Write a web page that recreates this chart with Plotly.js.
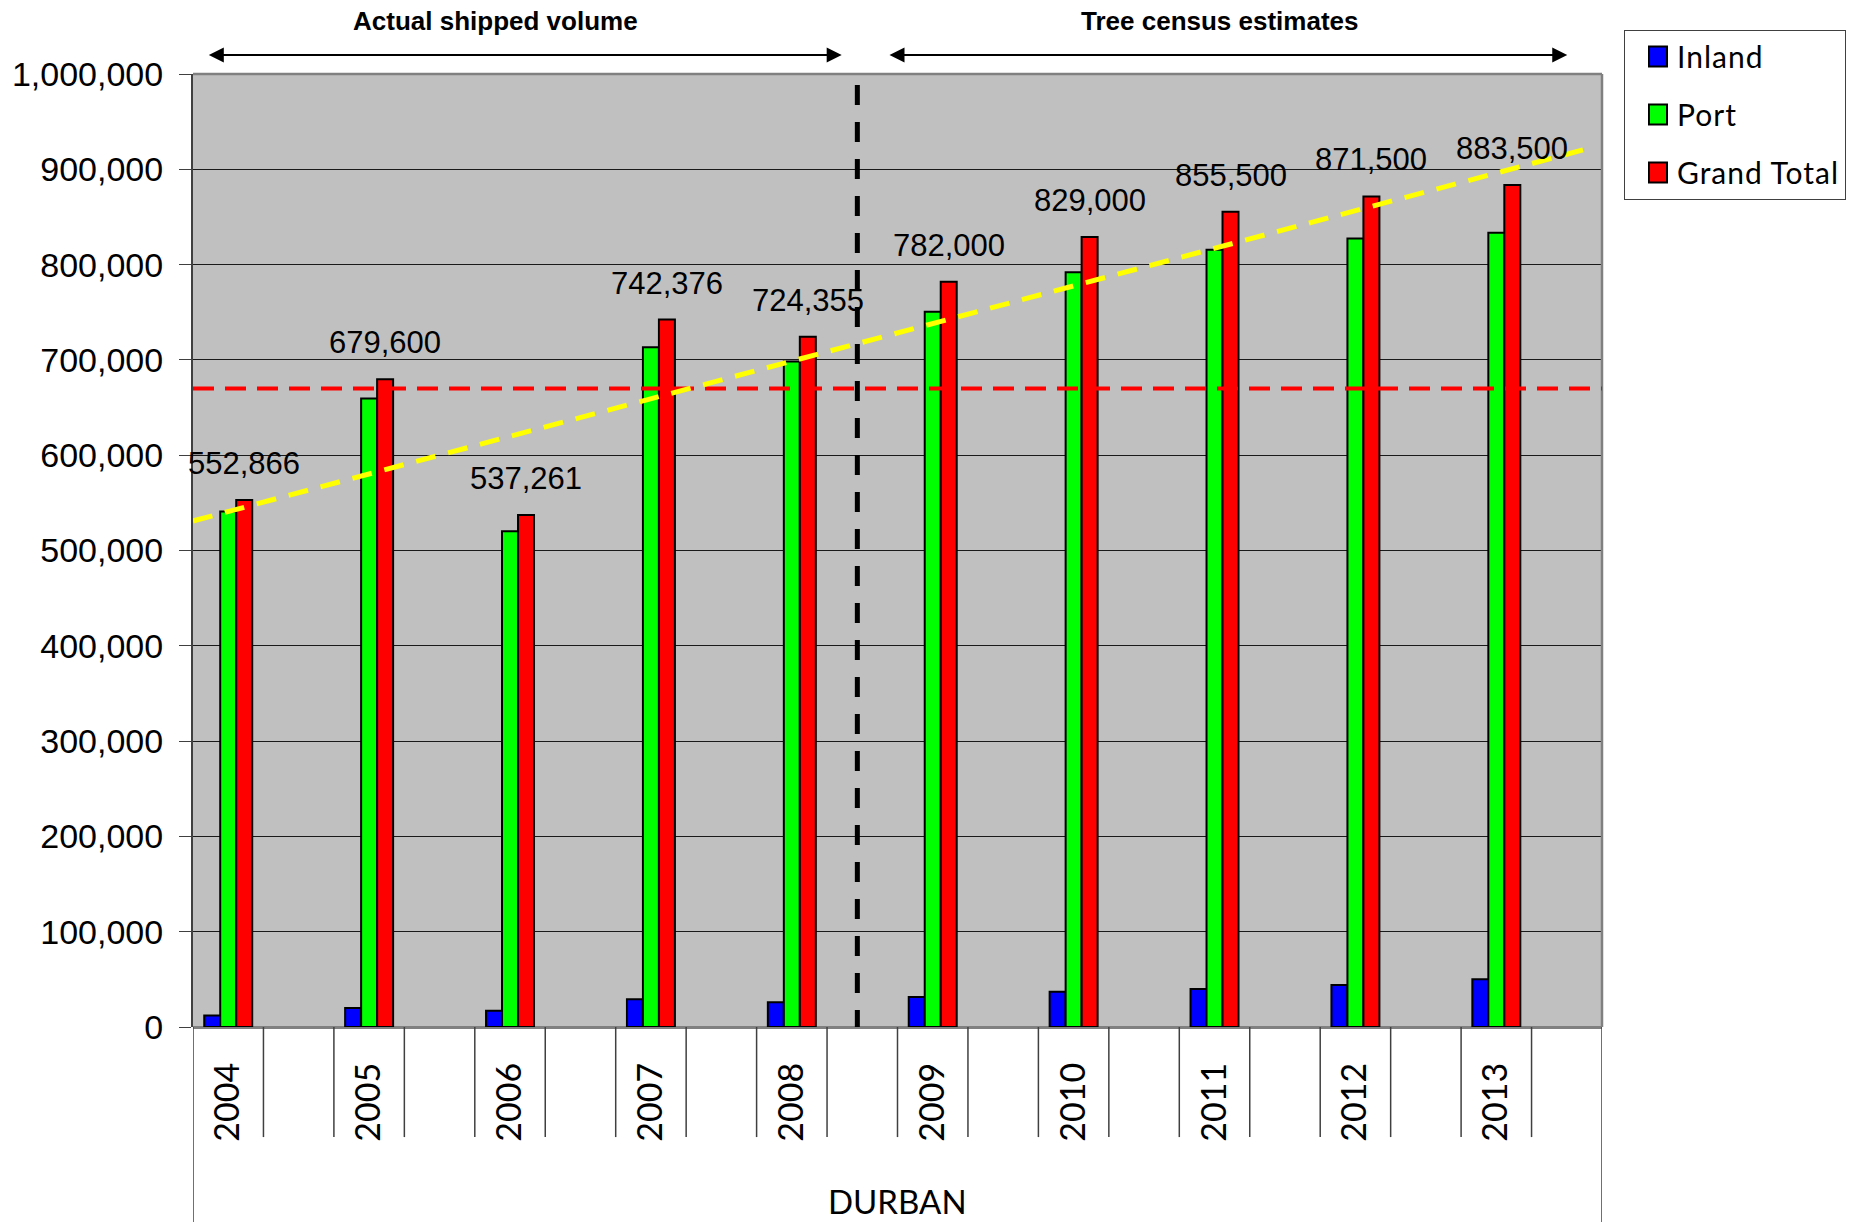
<!DOCTYPE html>
<html>
<head>
<meta charset="utf-8">
<script src="https://cdn.plot.ly/plotly-3.0.1.min.js"></script>
<style>
  html, body { margin: 0; padding: 0; background: #ffffff; }
  #chart { width: 1858px; height: 1222px; }
  .legendtext { letter-spacing: 1px; }
</style>
</head>
<body>
<div id="chart"></div>
<script>
// ---------------- data ----------------
const years = ['2004', '2005', '2006', '2007', '2008', '2009', '2010', '2011', '2012', '2013'];
const inland = [12000, 20000, 17000, 29000, 26000, 31500, 37000, 40000, 44000, 50000];
const port = [541000, 659600, 520300, 713400, 698400, 750500, 792000, 815500, 827500, 833500];
const grandTotal = [552866, 679600, 537261, 742376, 724355, 782000, 829000, 855500, 871500, 883500];
const seriesNames = ['Inland', 'Port', 'Grand Total'];
const referenceLevel = 670000;          // red dashed horizontal line
const trendValues = [531000, 920300];   // yellow dashed trend line, start / end values
const periodLabels = ['Actual shipped volume', 'Tree census estimates'];
const groupLabel = 'DURBAN';

// ---------------- layout helpers ----------------
const nSlots = years.length * 2;               // each year followed by an empty slot
const xs = years.map((_, i) => 2 * i);
const barW = 0.227;
const colors = ['#0000FF', '#00FF00', '#FF0000'];
const offsets = [-1.5 * barW, -0.5 * barW, 0.5 * barW];
const values = [inland, port, grandTotal];

const traces = values.map((v, k) => ({
  type: 'bar',
  name: seriesNames[k],
  x: xs,
  y: v,
  width: barW,
  offset: offsets[k],
  legendgroup: 'g' + k,
  marker: { color: colors[k], line: { color: '#000000', width: 2 } },
  hoverinfo: 'skip'
}));

const fmt = n => n.toLocaleString('en-US');

const annotations = [];
grandTotal.forEach((v, i) => {
  annotations.push({
    x: xs[i] + offsets[2] + barW / 2, y: v, xref: 'x', yref: 'y',
    text: fmt(v), showarrow: false, yanchor: 'bottom', yshift: 17,
    font: { family: 'Liberation Sans, Arial, sans-serif', size: 31, color: '#000000' }
  });
});

const dividerX = 8.93;
const headerY = 1.0556;
const arrowY = 1.02;
// period headers
[[3.79, periodLabels[0]], [14.08, periodLabels[1]]].forEach(([x, t]) => {
  annotations.push({ x: x, y: headerY, xref: 'x', yref: 'paper', yanchor: 'middle', xanchor: 'center',
    text: '<b>' + t + '</b>', showarrow: false,
    font: { family: 'Liberation Sans, Arial, sans-serif', size: 26, color: '#000000' } });
});
// double-headed arrows
[[-0.297, 8.708], [9.365, 19.007]].forEach(([a, b]) => {
  annotations.push({
    x: b, y: arrowY, ax: a, ay: 0, xref: 'x', yref: 'paper', axref: 'x', ayref: 'pixel',
    text: '', showarrow: true, arrowhead: 2, startarrowhead: 2, arrowside: 'end+start',
    arrowsize: 1.5, startarrowsize: 1.5, arrowwidth: 2, arrowcolor: '#000000', standoff: 0, startstandoff: 0
  });
});
// outer category label
annotations.push({ x: 0.5, y: -0.183, xref: 'paper', yref: 'paper', text: groupLabel, showarrow: false,
  yanchor: 'middle', font: { family: 'Lato, sans-serif', size: 33, color: '#000000' } });

const shapes = [];
// category divider lines below the axis
for (let k = 0; k <= nSlots; k++) {
  const outer = (k === 0 || k === nSlots);
  shapes.push({ type: 'line', xref: 'x', yref: 'paper', x0: k - 0.5, x1: k - 0.5, y0: 0, y1: outer ? -0.21 : -0.1155,
    line: { color: '#404040', width: 1.5 } });
}
// plot border top/right
shapes.push({ type: 'line', xref: 'paper', yref: 'paper', x0: 0, x1: 1, y0: 1, y1: 1, line: { color: '#808080', width: 2.5 }, layer: 'above' });
shapes.push({ type: 'line', xref: 'paper', yref: 'paper', x0: 1, x1: 1, y0: 0, y1: 1, line: { color: '#808080', width: 2.5 }, layer: 'above' });
// red reference line
shapes.push({ type: 'line', xref: 'x', yref: 'y', x0: -0.5, x1: nSlots - 0.5, y0: referenceLevel, y1: referenceLevel,
  line: { color: '#FF0000', width: 4, dash: '21px,11px' }, layer: 'above' });
// yellow trend line
shapes.push({ type: 'line', xref: 'x', yref: 'y', x0: -0.5, x1: 19.23, y0: trendValues[0], y1: trendValues[1],
  line: { color: '#FFFF00', width: 5, dash: '20px,13px' }, layer: 'above' });
// black vertical period divider
shapes.push({ type: 'line', xref: 'x', yref: 'y', x0: dividerX, x1: dividerX, y0: 988500, y1: 0,
  line: { color: '#000000', width: 5, dash: '20px,17px' }, layer: 'above' });

const layout = {
  width: 1858, height: 1222,
  margin: { l: 193, r: 256, t: 74, b: 195, pad: 0 },
  paper_bgcolor: '#FFFFFF',
  plot_bgcolor: '#C0C0C0',
  font: { family: 'Liberation Sans, Arial, sans-serif', color: '#000000' },
  barmode: 'overlay',
  showlegend: true,
  legend: {
    x: 1.0156, y: 1.0466, xanchor: 'left', yanchor: 'top',
    bgcolor: '#FFFFFF', bordercolor: '#404040', borderwidth: 1,
    font: { family: 'Lato, sans-serif', size: 30, color: '#000000' },
    traceorder: 'grouped', tracegroupgap: 16, itemwidth: 42
  },
  xaxis: {
    range: [-0.5, nSlots - 0.5],
    tickmode: 'array', tickvals: xs, ticktext: years, tickangle: -90,
    tickfont: { family: 'Lato, sans-serif', size: 34, color: '#000000' },
    ticks: '', showgrid: false, zeroline: false, showline: false,
    ticklabelstandoff: 28, fixedrange: true
  },
  yaxis: {
    range: [0, 1000000], tick0: 0, dtick: 100000, tickformat: ',d',
    tickfont: { family: 'Liberation Sans, Arial, sans-serif', size: 34, color: '#000000' },
    ticks: 'outside', ticklen: 12, tickcolor: '#404040', tickwidth: 1,
    showgrid: true, gridcolor: '#1a1a1a', gridwidth: 1,
    zeroline: true, zerolinecolor: '#808080', zerolinewidth: 3,
    showline: true, linecolor: '#404040', linewidth: 2,
    ticklabelstandoff: 9, fixedrange: true
  },
  annotations: annotations,
  shapes: shapes
};

Plotly.newPlot('chart', traces, layout, { displayModeBar: false, staticPlot: true }).then(() => {
  // enlarge the legend swatches to match the reference style
  document.querySelectorAll('#chart .legend .legendpoints path').forEach(p => {
    p.setAttribute('d', 'M16,10H-2V-10H16Z');
    p.style.strokeWidth = '2px';
    p.style.stroke = '#000000';
  });
});
</script>
</body>
</html>
